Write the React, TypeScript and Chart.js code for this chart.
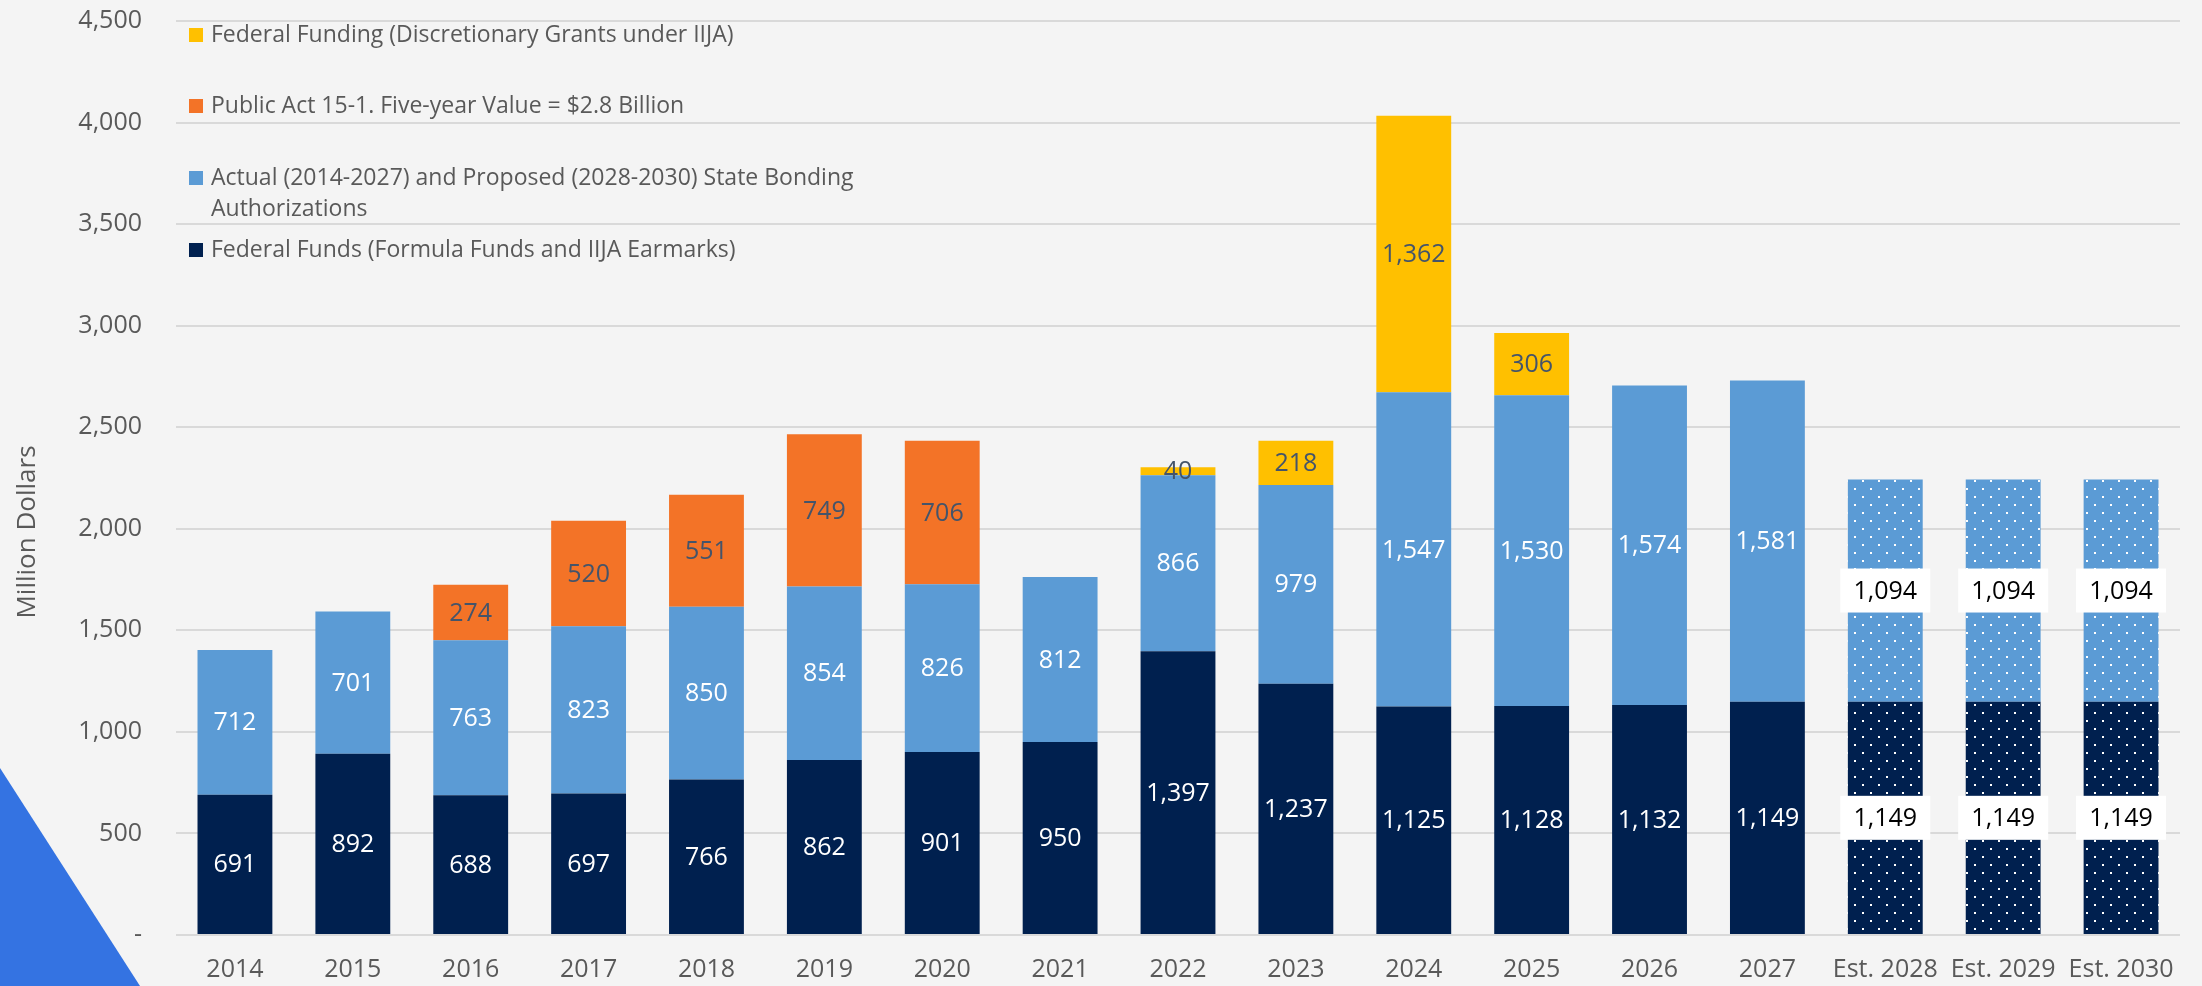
import React, { useEffect, useRef } from 'react';
import { Chart, registerables } from 'chart.js';

Chart.register(...registerables);

// ---------- DATA ----------
const categories = [
  '2014', '2015', '2016', '2017', '2018', '2019', '2020', '2021', '2022', '2023',
  '2024', '2025', '2026', '2027', 'Est. 2028', 'Est. 2029', 'Est. 2030',
];
const federalFunds = [691, 892, 688, 697, 766, 862, 901, 950, 1397, 1237, 1125, 1128, 1132, 1149, 1149, 1149, 1149];
const stateBonding = [712, 701, 763, 823, 850, 854, 826, 812, 866, 979, 1547, 1530, 1574, 1581, 1094, 1094, 1094];
const publicAct = [null, null, 274, 520, 551, 749, 706, null, null, null, null, null, null, null, null, null, null];
const discretionary = [null, null, null, null, null, null, null, null, 40, 218, 1362, 306, null, null, null, null, null];
const isEstimate = [false, false, false, false, false, false, false, false, false, false, false, false, false, false, true, true, true];

const seriesNames = [
  'Federal Funds (Formula Funds and IIJA Earmarks)',
  'Actual (2014-2027) and Proposed (2028-2030) State Bonding Authorizations',
  'Public Act 15-1. Five-year Value = $2.8 Billion',
  'Federal Funding (Discretionary Grants under IIJA)',
];
// legend text lines, top to bottom (as wrapped in the original)
const legendLines: string[][] = [
  ['Federal Funding (Discretionary Grants under IIJA)'],
  ['Public Act 15-1. Five-year Value = $2.8 Billion'],
  ['Actual (2014-2027) and Proposed (2028-2030) State Bonding', 'Authorizations'],
  ['Federal Funds (Formula Funds and IIJA Earmarks)'],
];
const yAxisTitle = 'Million Dollars';
const yMin = 0;
const yMax = 4500;
const yStep = 500;

// ---------- STYLE ----------
const NAVY = '#00204F';
const LIGHTBLUE = '#5B9BD5';
const ORANGE = '#F37327';
const YELLOW = '#FFC000';
const BG = '#F4F4F4';
const GRID = '#D9D9D9';
const TEXT = '#595959';
const FONT = "'Open Sans', sans-serif";
const legendColors = [YELLOW, ORANGE, LIGHTBLUE, NAVY];
const legendY = [35, 106, 178, 250];
const labelColors = ['#FFFFFF', '#FFFFFF', '#44546A', '#44546A'];

function makeDots(color: string): CanvasPattern | string {
  const c = document.createElement('canvas');
  c.width = 16;
  c.height = 16;
  const g = c.getContext('2d');
  if (!g) return color;
  g.fillStyle = color;
  g.fillRect(0, 0, 16, 16);
  g.fillStyle = '#FFFFFF';
  g.fillRect(6, 0, 2, 2);
  g.fillRect(14, 8, 2, 2);
  return g.createPattern(c, 'repeat') || color;
}

const fmt = (v: number) => v.toLocaleString('en-US');

export default function App() {
  const ref = useRef<HTMLCanvasElement | null>(null);

  useEffect(() => {
    document.body.style.margin = '0';
    const canvas = ref.current;
    if (!canvas) return;
    const navyDots = makeDots(NAVY);
    const blueDots = makeDots(LIGHTBLUE);

    const bgPlugin = {
      id: 'bgTriangle',
      beforeDraw(chart: any) {
        const ctx = chart.ctx;
        ctx.save();
        ctx.fillStyle = BG;
        ctx.fillRect(0, 0, chart.width, chart.height);
        ctx.fillStyle = '#3473E2';
        ctx.beginPath();
        ctx.moveTo(0, 768);
        ctx.lineTo(140, chart.height);
        ctx.lineTo(0, chart.height);
        ctx.closePath();
        ctx.fill();
        ctx.restore();
      },
    };

    const labelPlugin = {
      id: 'valueLabels',
      afterDatasetsDraw(chart: any) {
        const ctx = chart.ctx;
        ctx.save();
        ctx.font = `25px ${FONT}`;
        ctx.textAlign = 'center';
        ctx.textBaseline = 'middle';
        chart.data.datasets.forEach((ds: any, di: number) => {
          const meta = chart.getDatasetMeta(di);
          meta.data.forEach((el: any, i: number) => {
            const v = ds.data[i];
            if (v === null || v === undefined) return;
            const cy = (el.y + el.base) / 2;
            const cx = el.x;
            if (isEstimate[i]) {
              ctx.fillStyle = '#FFFFFF';
              ctx.fillRect(cx - 45, cy - 22, 90, 44);
              ctx.fillStyle = '#000000';
            } else {
              ctx.fillStyle = labelColors[di];
            }
            ctx.fillText(fmt(v), cx, cy + 1);
          });
        });
        ctx.restore();
      },
    };

    const decorPlugin = {
      id: 'legendAndTitle',
      afterDraw(chart: any) {
        const ctx = chart.ctx;
        const left = chart.chartArea.left;
        ctx.save();
        ctx.font = `23px ${FONT}`;
        ctx.textBaseline = 'middle';
        ctx.textAlign = 'left';
        legendLines.forEach((lines, k) => {
          const y = legendY[k];
          ctx.fillStyle = legendColors[k];
          ctx.fillRect(left + 13, y - 7, 14, 14);
          ctx.fillStyle = TEXT;
          lines.forEach((t, li) => ctx.fillText(t, left + 35, y + li * 31));
        });
        ctx.translate(28, 532);
        ctx.rotate(-Math.PI / 2);
        ctx.textAlign = 'center';
        ctx.font = `26px ${FONT}`;
        ctx.fillStyle = TEXT;
        ctx.fillText(yAxisTitle, 0, 0);
        ctx.restore();
      },
    };

    const chart = new Chart(canvas, {
      type: 'bar',
      data: {
        labels: categories,
        datasets: [
          {
            label: seriesNames[0],
            data: federalFunds,
            backgroundColor: isEstimate.map((e) => (e ? navyDots : NAVY)) as any,
          },
          {
            label: seriesNames[1],
            data: stateBonding,
            backgroundColor: isEstimate.map((e) => (e ? blueDots : LIGHTBLUE)) as any,
          },
          { label: seriesNames[2], data: publicAct as any, backgroundColor: ORANGE },
          { label: seriesNames[3], data: discretionary as any, backgroundColor: YELLOW },
        ],
      },
      options: {
        responsive: false,
        animation: false,
        devicePixelRatio: 1,
        layout: { padding: { top: 21, right: 22, left: 0, bottom: 0 } },
        datasets: { bar: { barPercentage: 0.635, categoryPercentage: 1, borderWidth: 0 } },
        plugins: { legend: { display: false }, tooltip: { enabled: false } },
        scales: {
          x: {
            stacked: true,
            grid: { display: false, drawTicks: false },
            border: { display: false },
            ticks: { font: { family: FONT, size: 25 }, color: TEXT, padding: 20, maxRotation: 0, autoSkip: false },
            afterFit: (s: any) => { s.height = 51; s.paddingLeft = 0; s.paddingRight = 0; },
          },
          y: {
            stacked: true,
            min: yMin,
            max: yMax,
            grid: { color: GRID, lineWidth: 2, drawTicks: false },
            border: { display: false },
            ticks: {
              stepSize: yStep,
              font: { family: FONT, size: 25 },
              color: TEXT,
              padding: 34,
              callback: (v: any) => (Number(v) === 0 ? '-' : fmt(Number(v))),
            },
            afterFit: (s: any) => { s.width = 176; s.paddingTop = 0; s.paddingBottom = 0; },
          },
        },
      },
      plugins: [bgPlugin, labelPlugin, decorPlugin],
    } as any);

    return () => chart.destroy();
  }, []);

  return (
    <div style={{ position: 'fixed', left: 0, top: 0, width: 2202, height: 986 }}>
      <canvas ref={ref} width={2202} height={986} style={{ width: 2202, height: 986, display: 'block' }} />
    </div>
  );
}
